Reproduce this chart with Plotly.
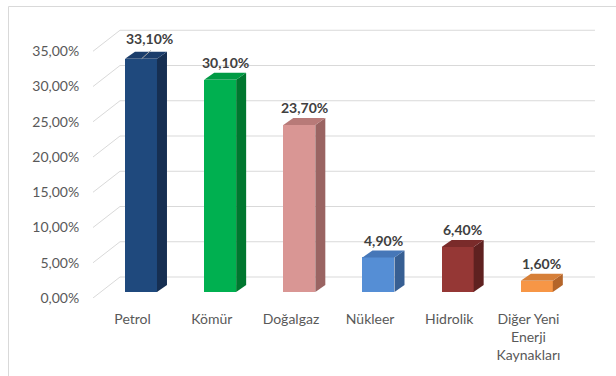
import plotly.graph_objects as go

# Energy sources and their shares (%)
categories = ["Petrol", "Kömür", "Doğalgaz", "Nükleer", "Hidrolik",
              "Diğer Yeni<br>Enerji<br>Kaynakları"]
shares = [33.1, 30.1, 23.7, 4.9, 6.4, 1.6]
y_ticks = [0, 5, 10, 15, 20, 25, 30, 35]

# Face colours for the pseudo-3D columns
front_colors = ["#1f497d", "#00b050", "#d99694", "#558ed5", "#953735", "#f79646"]
side_colors = ["#162f52", "#00772f", "#9a6462", "#375f93", "#5f2120", "#b4652a"]
top_colors = ["#1b3d6b", "#009a44", "#b87a78", "#4677b8", "#7a2b2a", "#d67f38"]

GRID = "#d9d9d9"
FONT = "Lato"

# Geometry (axis units): 1 x-unit = one category slot, 1 y-unit = 1 %
W, H = 616, 376
ML, MR, MT, MB = 93, 16, 20, 78
PX_X, PX_Y = 79.17, 7.05
x_lo = -0.5
x_hi = x_lo + (W - ML - MR) / PX_X
y_hi = (H - MT - MB) / PX_Y

WALL_DX, WALL_DY = 27 / PX_X, 21 / PX_Y      # back wall offset
BASE = 6 / PX_Y                              # column floor level
COL_OFF, COL_W = -0.096, 32 / PX_X           # column front face
DEP_DX, DEP_DY = 10 / PX_X, 7 / PX_Y         # column depth
WALL_END = (595 - 132.6) / PX_X


def fmt(v):
    return f"{v:.2f}".replace(".", ",") + "%"


fig = go.Figure()

# Front faces
fig.add_trace(go.Bar(
    x=[i + COL_OFF + COL_W / 2 for i in range(len(shares))],
    y=shares, base=BASE, width=COL_W,
    marker=dict(color=front_colors, line=dict(width=0)),
    hoverinfo="skip", showlegend=False,
))

# Side and top faces
for i, v in enumerate(shares):
    x0 = i + COL_OFF
    x1 = x0 + COL_W
    top = BASE + v
    fig.add_trace(go.Scatter(
        x=[x1, x1, x1 + DEP_DX, x1 + DEP_DX, x1],
        y=[BASE, top, top + DEP_DY, BASE + DEP_DY, BASE],
        fill="toself", fillcolor=side_colors[i], mode="lines",
        line=dict(width=0, color=side_colors[i]),
        hoverinfo="skip", showlegend=False, cliponaxis=False,
    ))
    fig.add_trace(go.Scatter(
        x=[x0, x1, x1 + DEP_DX, x0 + DEP_DX, x0],
        y=[top, top, top + DEP_DY, top + DEP_DY, top],
        fill="toself", fillcolor=top_colors[i], mode="lines",
        line=dict(width=0, color=top_colors[i]),
        hoverinfo="skip", showlegend=False, cliponaxis=False,
    ))

# Data labels; the first one sits slightly off with a leader line
annotations = []
for i, v in enumerate(shares):
    cx = i + COL_OFF + COL_W / 2 + DEP_DX / 2
    cy = BASE + v + DEP_DY
    xs, ys = (4, 13) if i == 0 else (0, 10)
    annotations.append(dict(
        x=cx, y=cy, xref="x", yref="y", text="<b>" + fmt(v) + "</b>",
        showarrow=False, xanchor="center", yanchor="middle",
        xshift=xs, yshift=ys,
        font=dict(family=FONT, size=14, color="#404040"),
    ))

lead_x = 0 + COL_OFF + COL_W / 2 + 0.009
lead_y = BASE + shares[0]
fig.add_trace(go.Scatter(
    x=[lead_x, lead_x + 0.117], y=[lead_y, lead_y + 1.18],
    mode="lines", line=dict(color="#a6a6a6", width=1),
    hoverinfo="skip", showlegend=False, cliponaxis=False,
))

# Back-wall gridlines with their diagonal floor connectors
shapes = []
for t in y_ticks:
    shapes.append(dict(
        type="path", xref="x", yref="y", layer="below",
        path=f"M {x_lo},{t} L {x_lo + WALL_DX},{t + WALL_DY} L {WALL_END},{t + WALL_DY}",
        line=dict(color=GRID, width=1),
    ))

# Chart frame
def px_to_paper_x(px):
    return (px - ML) / (W - ML - MR)


def px_to_paper_y(py):
    return (H - MB - py) / (H - MT - MB)


shapes.append(dict(type="line", xref="paper", yref="paper",
                   x0=px_to_paper_x(8.5), x1=px_to_paper_x(W + 5),
                   y0=px_to_paper_y(6.5), y1=px_to_paper_y(6.5),
                   line=dict(color=GRID, width=1)))
shapes.append(dict(type="line", xref="paper", yref="paper",
                   x0=px_to_paper_x(8.5), x1=px_to_paper_x(8.5),
                   y0=px_to_paper_y(6.5), y1=px_to_paper_y(H + 5),
                   line=dict(color=GRID, width=1)))

fig.update_layout(
    width=W, height=H,
    margin=dict(l=ML, r=MR, t=MT, b=MB, pad=0),
    paper_bgcolor="white", plot_bgcolor="white",
    shapes=shapes, annotations=annotations,
    showlegend=False, bargap=0,
    font=dict(family=FONT, size=14, color="#595959"),
    xaxis=dict(
        range=[x_lo, x_hi], tickmode="array",
        tickvals=list(range(len(categories))), ticktext=categories,
        showgrid=False, zeroline=False, showline=False,
        ticks="outside", ticklen=8, tickcolor="rgba(0,0,0,0)",
        tickfont=dict(family=FONT, size=14, color="#595959"),
        fixedrange=True,
    ),
    yaxis=dict(
        range=[0, y_hi], tickmode="array",
        tickvals=y_ticks, ticktext=[fmt(t) for t in y_ticks],
        showgrid=False, zeroline=False, showline=False,
        ticks="outside", ticklen=10, tickcolor="rgba(0,0,0,0)",
        tickfont=dict(family=FONT, size=14, color="#595959"),
        fixedrange=True,
    ),
)

fig.write_html("out.html")
